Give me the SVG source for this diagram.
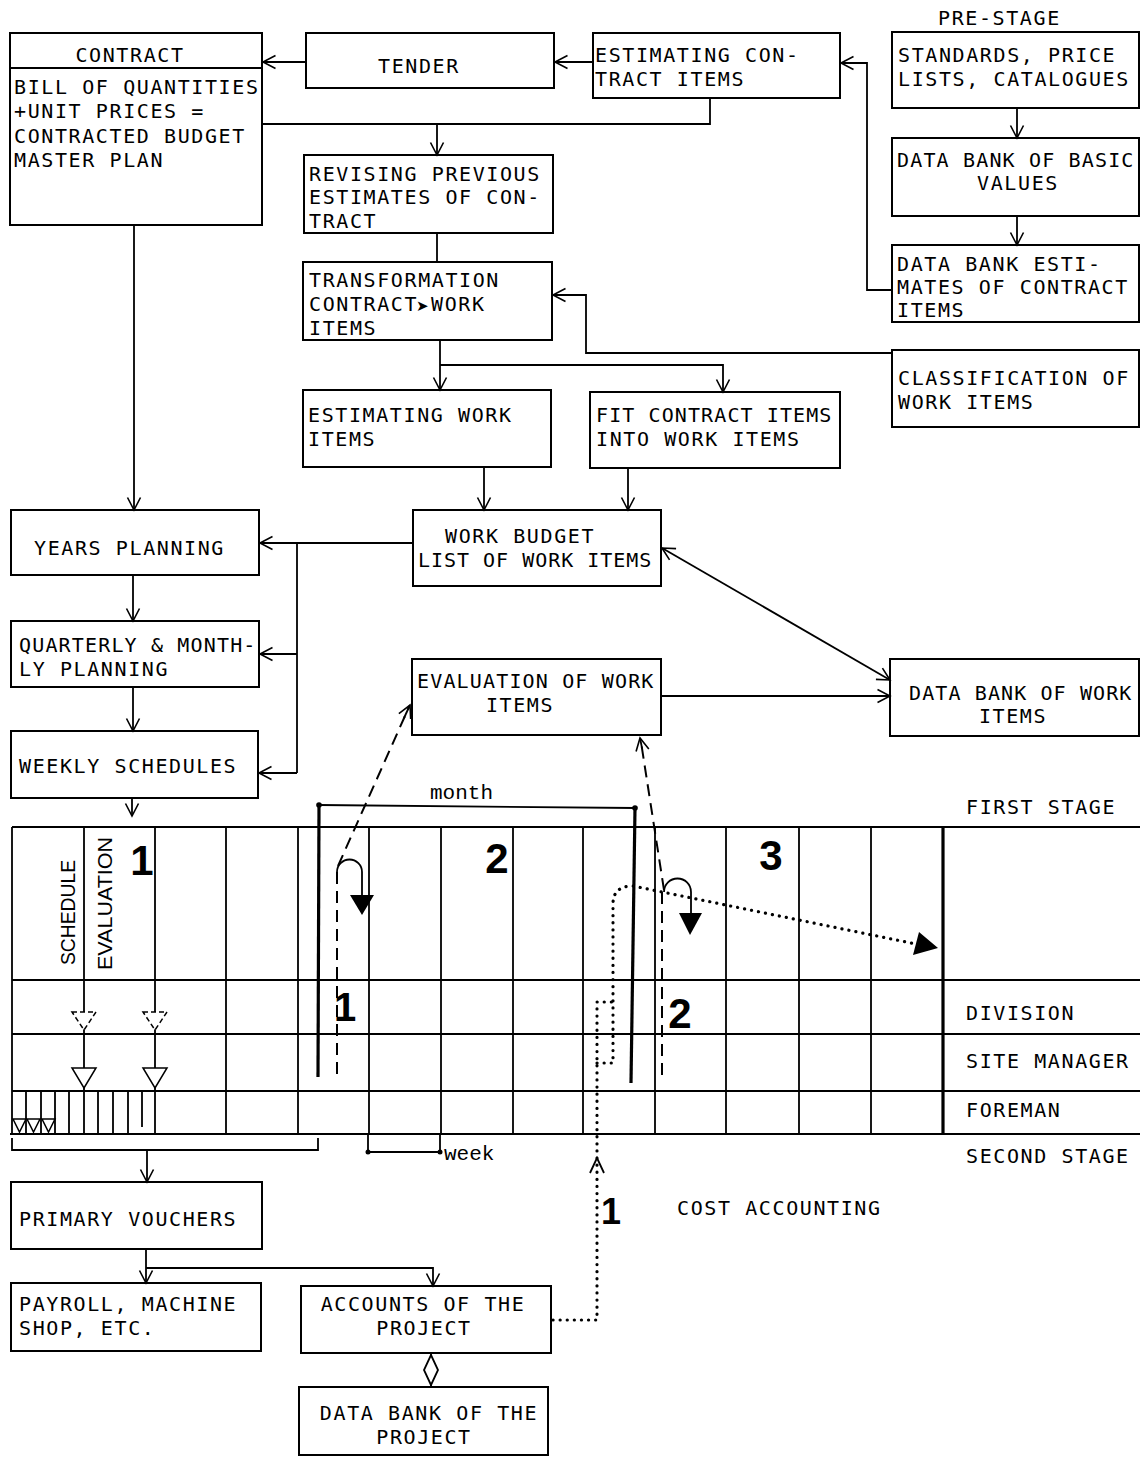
<svg xmlns="http://www.w3.org/2000/svg" width="1140" height="1457" viewBox="0 0 1140 1457">
<style>
.bx{fill:#fff;stroke:#000;stroke-width:2}
.t{font-family:"DejaVu Sans Mono","Liberation Mono",monospace;font-size:20px;letter-spacing:1.6px;fill:#000}
.m{text-anchor:middle}
.c{fill:none;stroke:#000;stroke-width:1.8}
.a{marker-end:url(#ah)}
.g{fill:none;stroke:#000;stroke-width:1.8}
.thick{fill:none;stroke:#000;stroke-width:3.2}
.dash{fill:none;stroke:#000;stroke-width:2;stroke-dasharray:12 7}
.dot{fill:none;stroke:#000;stroke-width:3.2;stroke-dasharray:0.1 7;stroke-linecap:round}
.num{font-family:"Liberation Sans",Arial,sans-serif;font-weight:bold;fill:#000;text-anchor:middle}
.sv{font-family:"Liberation Sans",Arial,sans-serif;font-size:21px;fill:#000}
.mono{font-family:"Liberation Mono","Courier New",monospace;font-size:21px;fill:#000}
.fill{fill:#000;stroke:none}
</style>
<defs>
<marker id="ah" markerUnits="userSpaceOnUse" markerWidth="16" markerHeight="16" viewBox="0 0 16 16" refX="14" refY="8" orient="auto">
<path d="M1.5,1.5 L14,8 L1.5,14.5" fill="none" stroke="#000" stroke-width="1.6"/>
</marker>
<marker id="ahs" markerUnits="userSpaceOnUse" markerWidth="16" markerHeight="16" viewBox="0 0 16 16" refX="14" refY="8" orient="auto-start-reverse">
<path d="M1.5,1.5 L14,8 L1.5,14.5" fill="none" stroke="#000" stroke-width="1.6"/>
</marker>
</defs>
<rect width="1140" height="1457" fill="#fff"/>

<!-- grid (schedule chart) -->
<g id="grid">
<path class="g" d="M12 827 H1140 M12 980 H1140 M12 1034 H1140 M12 1091 H1140 M10 1134 H1140"/>
<path class="g" d="M12 827 V1134 M84 827 V1134 M155 827 V1134 M226 827 V1134 M298 827 V1134 M369 827 V1134 M441 827 V1134 M513 827 V1134 M583 827 V1134 M655 827 V1134 M726 827 V1134 M799 827 V1134 M871 827 V1134"/>
<path class="thick" d="M943 827 V1134"/>
<path class="g" stroke-width="1.5" d="M26 1091 V1134 M41 1091 V1134 M55 1091 V1134 M69 1091 V1134 M98 1091 V1134 M113 1091 V1134 M128 1091 V1134 M142 1091 V1127"/>
<g fill="#fff" stroke="#000" stroke-width="1.5">
<polygon points="13,1119 26,1119 19.5,1132"/>
<polygon points="27,1119 40,1119 33.5,1132"/>
<polygon points="42,1119 55,1119 48.5,1132"/>
<polygon points="72,1012 96,1012 84,1030" stroke-dasharray="5 3"/>
<polygon points="143,1012 167,1012 155,1030" stroke-dasharray="5 3"/>
<polygon points="72,1068 96,1068 84,1088"/>
<polygon points="143,1068 167,1068 155,1088"/>
</g>
<text class="sv" transform="translate(75,965) rotate(-90)" textLength="105" lengthAdjust="spacingAndGlyphs">SCHEDULE</text>
<text class="sv" transform="translate(112,970) rotate(-90)" textLength="133" lengthAdjust="spacingAndGlyphs">EVALUATION</text>
<text class="num" x="142" y="875" font-size="42">1</text>
<text class="num" x="497" y="873" font-size="42">2</text>
<text class="num" x="771" y="870" font-size="42">3</text>
<text class="num" x="345" y="1021" font-size="40">1</text>
<text class="num" x="680" y="1028" font-size="42">2</text>
<text class="num" x="611" y="1224" font-size="36">1</text>
<text class="t" x="966" y="814">FIRST STAGE</text>
<text class="t" x="966" y="1020">DIVISION</text>
<text class="t" x="966" y="1068">SITE MANAGER</text>
<text class="t" x="966" y="1117">FOREMAN</text>
<text class="t" x="966" y="1163">SECOND STAGE</text>
<text class="t" x="677" y="1215">COST ACCOUNTING</text>
<!-- month / week dimensions -->
<path class="g" stroke-width="1.5" d="M319 805 L635 808"/>
<circle class="fill" cx="319" cy="805" r="2.8"/>
<circle class="fill" cx="635" cy="808" r="2.8"/>
<text class="mono" x="430" y="799">month</text>
<path class="g" stroke-width="1.5" d="M368 1134 V1152 H440 V1134"/>
<circle class="fill" cx="368" cy="1152" r="2.5"/>
<circle class="fill" cx="440" cy="1152" r="2.5"/>
<text class="mono" x="444" y="1160">week</text>
<!-- thick control lines -->
<path class="thick" d="M319 805 L318 1077"/>
<path class="thick" d="M635 808 L631 1083"/>
</g>

<!-- nodes -->
<g id="contract">
<rect class="bx" x="10" y="33" width="252" height="192"/>
<path class="g" stroke-width="2" d="M10 68 H262"/>
<text class="t m" x="130" y="62">CONTRACT</text>
<text class="t" x="14" y="94">BILL OF QUANTITIES</text>
<text class="t" x="14" y="118">+UNIT PRICES =</text>
<text class="t" x="14" y="143">CONTRACTED BUDGET</text>
<text class="t" x="14" y="167">MASTER PLAN</text>
</g>
<g id="tender">
<rect class="bx" x="306" y="33" width="248" height="55"/>
<text class="t" x="378" y="73">TENDER</text>
</g>
<g id="estimating-contract-items">
<rect class="bx" x="593" y="33" width="247" height="65"/>
<text class="t" x="595" y="62">ESTIMATING CON-</text>
<text class="t" x="595" y="86">TRACT ITEMS</text>
</g>
<g id="pre-stage-label">
<text class="t" x="938" y="25">PRE-STAGE</text>
</g>
<g id="standards">
<rect class="bx" x="892" y="32" width="247" height="76"/>
<text class="t" x="898" y="62">STANDARDS, PRICE</text>
<text class="t" x="898" y="86">LISTS, CATALOGUES</text>
</g>
<g id="data-bank-basic">
<rect class="bx" x="892" y="138" width="247" height="78"/>
<text class="t" x="897" y="167" textLength="238">DATA BANK OF BASIC</text>
<text class="t m" x="1018" y="190">VALUES</text>
</g>
<g id="data-bank-estimates">
<rect class="bx" x="892" y="245" width="247" height="77"/>
<text class="t" x="897" y="271">DATA BANK ESTI-</text>
<text class="t" x="897" y="294">MATES OF CONTRACT</text>
<text class="t" x="897" y="317">ITEMS</text>
</g>
<g id="classification">
<rect class="bx" x="892" y="350" width="247" height="77"/>
<text class="t" x="898" y="385">CLASSIFICATION OF</text>
<text class="t" x="898" y="409">WORK ITEMS</text>
</g>
<g id="revising">
<rect class="bx" x="304" y="155" width="249" height="78"/>
<text class="t" x="309" y="181">REVISING PREVIOUS</text>
<text class="t" x="309" y="204">ESTIMATES OF CON-</text>
<text class="t" x="309" y="228">TRACT</text>
</g>
<g id="transformation">
<rect class="bx" x="303" y="262" width="249" height="78"/>
<text class="t" x="309" y="287">TRANSFORMATION</text>
<text class="t" x="309" y="311">CONTRACT<tspan x="416" font-size="15" font-family="DejaVu Sans, sans-serif">➤</tspan><tspan x="431">WORK</tspan></text>
<text class="t" x="309" y="335">ITEMS</text>
</g>
<g id="estimating-work-items">
<rect class="bx" x="303" y="390" width="248" height="77"/>
<text class="t" x="308" y="422">ESTIMATING WORK</text>
<text class="t" x="308" y="446">ITEMS</text>
</g>
<g id="fit-contract-items">
<rect class="bx" x="590" y="392" width="250" height="76"/>
<text class="t" x="596" y="422" textLength="237">FIT CONTRACT ITEMS</text>
<text class="t" x="596" y="446">INTO WORK ITEMS</text>
</g>
<g id="years-planning">
<rect class="bx" x="11" y="510" width="248" height="65"/>
<text class="t" x="34" y="555">YEARS PLANNING</text>
</g>
<g id="work-budget">
<rect class="bx" x="413" y="510" width="248" height="76"/>
<text class="t" x="445" y="543">WORK BUDGET</text>
<text class="t" x="418" y="567" textLength="235">LIST OF WORK ITEMS</text>
</g>
<g id="quarterly-planning">
<rect class="bx" x="11" y="621" width="248" height="66"/>
<text class="t" x="19" y="652" textLength="238">QUARTERLY &amp; MONTH-</text>
<text class="t" x="19" y="676">LY PLANNING</text>
</g>
<g id="evaluation">
<rect class="bx" x="412" y="659" width="249" height="76"/>
<text class="t" x="417" y="688" textLength="238">EVALUATION OF WORK</text>
<text class="t m" x="520" y="712">ITEMS</text>
</g>
<g id="data-bank-work-items">
<rect class="bx" x="890" y="659" width="249" height="77"/>
<text class="t" x="909" y="700" textLength="224">DATA BANK OF WORK</text>
<text class="t m" x="1013" y="723">ITEMS</text>
</g>
<g id="weekly-schedules">
<rect class="bx" x="11" y="731" width="247" height="67"/>
<text class="t" x="19" y="773">WEEKLY SCHEDULES</text>
</g>
<g id="primary-vouchers">
<rect class="bx" x="11" y="1182" width="251" height="67"/>
<text class="t" x="19" y="1226">PRIMARY VOUCHERS</text>
</g>
<g id="payroll">
<rect class="bx" x="11" y="1283" width="250" height="68"/>
<text class="t" x="19" y="1311">PAYROLL, MACHINE</text>
<text class="t" x="19" y="1335">SHOP, ETC.</text>
</g>
<g id="accounts">
<rect class="bx" x="301" y="1286" width="250" height="67"/>
<text class="t m" x="423" y="1311">ACCOUNTS OF THE</text>
<text class="t m" x="424" y="1335">PROJECT</text>
</g>
<g id="data-bank-project">
<rect class="bx" x="299" y="1387" width="249" height="68"/>
<text class="t m" x="429" y="1420">DATA BANK OF THE</text>
<text class="t m" x="424" y="1444">PROJECT</text>
</g>

<!-- connectors -->
<g id="connectors">
<path class="c a" d="M306 62 H263"/>
<path class="c a" d="M593 62 H555"/>
<path class="c a" d="M892 290 H867 V63 H841"/>
<path class="c a" d="M1017 108 V138"/>
<path class="c a" d="M1017 216 V245"/>
<path class="c" d="M710 98 V124 H262"/>
<path class="c a" d="M437 124 V155"/>
<path class="c" d="M437 233 V262"/>
<path class="c a" d="M892 353 H586 V295 H553"/>
<path class="c a" d="M440 340 V390"/>
<path class="c a" d="M440 365 H723 V392"/>
<path class="c a" d="M484 467 V510"/>
<path class="c a" d="M628 468 V510"/>
<path class="c a" d="M134 225 V510"/>
<path class="c a" d="M413 543 H260"/>
<path class="c" d="M297 543 V773"/>
<path class="c a" d="M297 654 H260"/>
<path class="c a" d="M297 773 H259"/>
<path class="c a" d="M133 575 V621"/>
<path class="c a" d="M133 687 V731"/>
<path class="c a" stroke-width="2.4" d="M132 798 V816"/>
<path class="c a" marker-start="url(#ahs)" d="M662 548 L890 680"/>
<path class="c a" d="M661 696 H890"/>
<path class="c" d="M12 1138 V1150 H318 V1138"/>
<path class="c a" d="M147 1150 V1182"/>
<path class="c a" d="M146 1249 V1283"/>
<path class="c a" d="M146 1268 H433 V1286"/>
<path class="c" d="M431 1353 V1387"/>
<polygon points="431,1355 438,1370 431,1385 424,1370" fill="#fff" stroke="#000" stroke-width="1.8"/>
<!-- dashed evaluation feedback -->
<path class="dash" d="M338 866 L409 707"/>
<path class="c a" d="M404 718 L410 705"/>
<path class="dash" d="M337 872 V1077"/>
<path class="dash" d="M664 890 L641 742"/>
<path class="c a" d="M642 748 L640 738"/>
<path class="dash" d="M662 892 V1080"/>
<!-- hooks -->
<path class="c" stroke-width="2" d="M337 872 A12.5 12.5 0 0 1 362 872 V896"/>
<polygon class="fill" points="350,895 374,895 362,915"/>
<path class="c" stroke-width="2" d="M664 892 A13.5 13.5 0 0 1 691 892 V914"/>
<polygon class="fill" points="679,913 702,913 690,935"/>
<!-- dotted cost accounting feedback -->
<path class="dot" d="M553 1320 H597 V1002 H613"/>
<path class="dot" d="M597 1063 H613 V904 Q613 886 633 886 L916 944"/>
<polygon class="fill" points="919,932 913,955 938,948"/>
<path class="c" d="M590 1173 L597 1158 L604 1173"/>
</g>
</svg>
